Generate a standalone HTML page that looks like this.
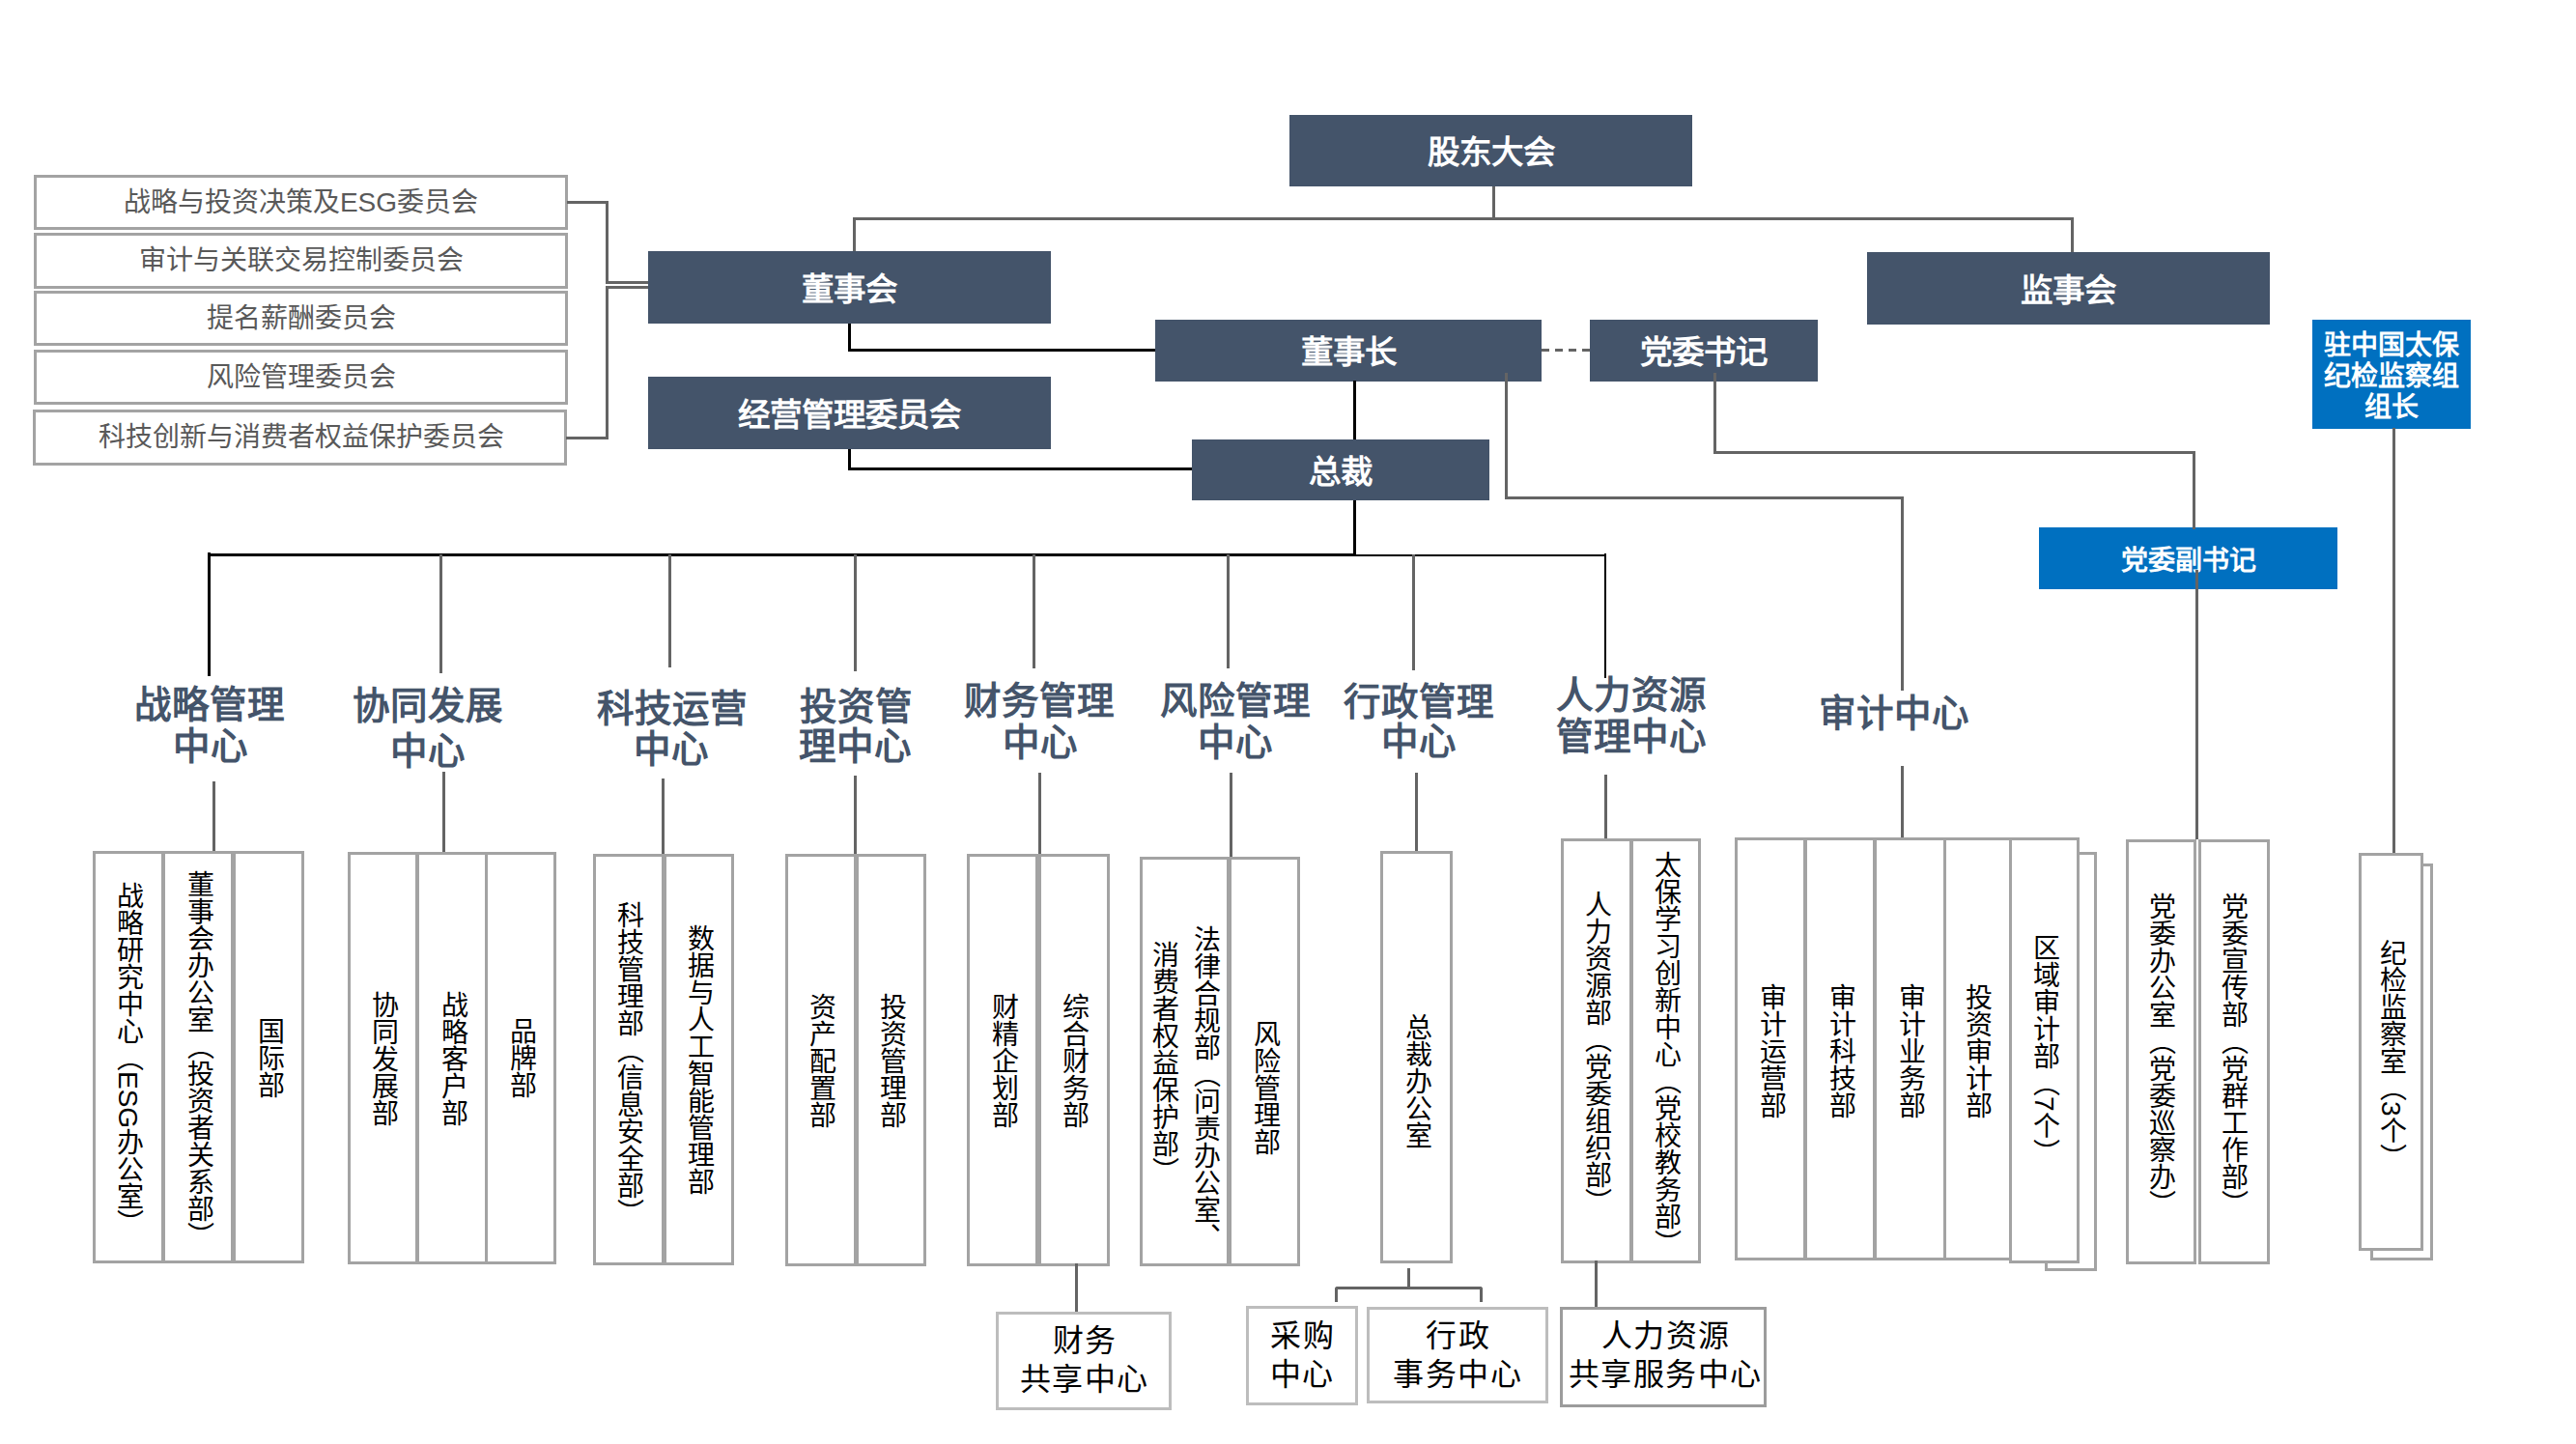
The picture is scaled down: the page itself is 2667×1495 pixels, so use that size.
<!DOCTYPE html>
<html lang="zh-CN"><head><meta charset="utf-8"><title>org</title>
<style>
html,body{margin:0;padding:0;background:#fff;}
body{width:2667px;height:1495px;position:relative;overflow:hidden;font-family:"Liberation Sans",sans-serif;}
.bx{position:absolute;color:#fff;font-weight:bold;display:flex;align-items:center;justify-content:center;text-align:center;box-sizing:border-box;padding-bottom:3px;}
.ln{position:absolute;}
.rc{position:absolute;box-sizing:border-box;}
.vt{position:absolute;writing-mode:vertical-rl;text-orientation:mixed;line-height:1;color:#000;white-space:nowrap;text-align:center;}
.lab{position:absolute;text-align:center;color:#44546A;font-weight:bold;white-space:nowrap;}
.tx{position:absolute;box-sizing:border-box;}
</style></head><body>
<div class="bx" style="left:1335px;top:119px;width:417px;height:74px;background:#44546A;font-size:33.5px;"><span>股东大会</span></div>
<div class="ln" style="left:1545px;top:193px;width:3px;height:34px;background:#646464"></div>
<div class="ln" style="left:883px;top:225px;width:1264px;height:3px;background:#646464"></div>
<div class="ln" style="left:883px;top:225px;width:3px;height:35px;background:#646464"></div>
<div class="ln" style="left:2144px;top:225px;width:3px;height:36px;background:#646464"></div>
<div class="bx" style="left:671px;top:260px;width:417px;height:75px;background:#44546A;font-size:33.5px;"><span>董事会</span></div>
<div class="bx" style="left:1933px;top:261px;width:417px;height:75px;background:#44546A;font-size:33.5px;"><span>监事会</span></div>
<div class="bx" style="left:671px;top:390px;width:417px;height:75px;background:#44546A;font-size:33.5px;"><span>经营管理委员会</span></div>
<div class="bx" style="left:1196px;top:331px;width:400px;height:64px;background:#44546A;font-size:33.5px;"><span>董事长</span></div>
<div class="bx" style="left:1646px;top:331px;width:236px;height:64px;background:#44546A;font-size:33.5px;"><span>党委书记</span></div>
<div class="bx" style="left:1234px;top:455px;width:308px;height:63px;background:#44546A;font-size:33.5px;"><span>总裁</span></div>
<div class="bx" style="left:2394px;top:331px;width:164px;height:113px;background:#0070C0;font-size:28px;line-height:32px;padding-bottom:0;padding-top:4px"><span>驻中国太保<br>纪检监察组<br>组长</span></div>
<div class="bx" style="left:2111px;top:546px;width:309px;height:64px;background:#0070C0;font-size:28px;padding-bottom:0"><span>党委副书记</span></div>
<div class="rc" style="left:35px;top:181px;width:553px;height:57px;border:3px solid #a3a3a3;"></div>
<div class="rc" style="left:35px;top:241px;width:553px;height:58px;border:3px solid #a3a3a3;"></div>
<div class="rc" style="left:35px;top:301px;width:553px;height:57px;border:3px solid #a3a3a3;"></div>
<div class="rc" style="left:35px;top:362px;width:553px;height:57px;border:3px solid #a3a3a3;"></div>
<div class="rc" style="left:34px;top:424px;width:553px;height:58px;border:3px solid #a3a3a3;"></div>
<div class="tx" style="left:35px;top:181px;width:553px;font-size:28px;line-height:57px;color:#595959;font-weight:normal;text-align:center">战略与投资决策及ESG委员会</div>
<div class="tx" style="left:35px;top:241px;width:553px;font-size:28px;line-height:58px;color:#595959;font-weight:normal;text-align:center">审计与关联交易控制委员会</div>
<div class="tx" style="left:35px;top:301px;width:553px;font-size:28px;line-height:57px;color:#595959;font-weight:normal;text-align:center">提名薪酬委员会</div>
<div class="tx" style="left:35px;top:362px;width:553px;font-size:28px;line-height:57px;color:#595959;font-weight:normal;text-align:center">风险管理委员会</div>
<div class="tx" style="left:35px;top:424px;width:553px;font-size:28px;line-height:58px;color:#595959;font-weight:normal;text-align:center">科技创新与消费者权益保护委员会</div>
<div class="ln" style="left:587px;top:208px;width:43px;height:3px;background:#646464"></div>
<div class="ln" style="left:627px;top:208px;width:3px;height:86px;background:#646464"></div>
<div class="ln" style="left:627px;top:291px;width:44px;height:3px;background:#646464"></div>
<div class="ln" style="left:627px;top:296px;width:44px;height:3px;background:#646464"></div>
<div class="ln" style="left:627px;top:296px;width:3px;height:159px;background:#646464"></div>
<div class="ln" style="left:586px;top:452px;width:44px;height:3px;background:#646464"></div>
<div class="ln" style="left:878px;top:335px;width:3px;height:29px;background:#000"></div>
<div class="ln" style="left:878px;top:361px;width:318px;height:3px;background:#000"></div>
<div class="ln" style="left:878px;top:465px;width:3px;height:22px;background:#000"></div>
<div class="ln" style="left:878px;top:484px;width:356px;height:3px;background:#000"></div>
<div class="ln" style="left:1401px;top:394px;width:3px;height:61px;background:#000"></div>
<div class="ln" style="left:1401px;top:518px;width:3px;height:57px;background:#000"></div>
<div class="ln" style="left:215px;top:573px;width:1189px;height:3px;background:#000"></div>
<div class="ln" style="left:1401px;top:574px;width:262px;height:2px;background:#000"></div>
<div class="ln" style="left:215px;top:572px;width:3px;height:128px;background:#000"></div>
<div class="ln" style="left:1661px;top:573px;width:2px;height:129px;background:#000"></div>
<div class="ln" style="left:1596px;top:361px;width:50px;height:3px;background:repeating-linear-gradient(90deg,#646464 0 8px,transparent 8px 14px)"></div>
<div class="ln" style="left:1558px;top:386px;width:3px;height:131px;background:#646464"></div>
<div class="ln" style="left:1558px;top:514px;width:413px;height:3px;background:#646464"></div>
<div class="ln" style="left:1968px;top:514px;width:3px;height:201px;background:#646464"></div>
<div class="ln" style="left:1968px;top:793px;width:3px;height:75px;background:#646464"></div>
<div class="ln" style="left:1774px;top:386px;width:3px;height:84px;background:#646464"></div>
<div class="ln" style="left:1774px;top:467px;width:499px;height:3px;background:#646464"></div>
<div class="ln" style="left:2270px;top:467px;width:3px;height:81px;background:#646464"></div>
<div class="ln" style="left:2273px;top:590px;width:3px;height:279px;background:#646464"></div>
<div class="ln" style="left:2477px;top:443px;width:3px;height:441px;background:#646464"></div>
<div class="ln" style="left:455px;top:574px;width:3px;height:123px;background:#646464"></div>
<div class="ln" style="left:692px;top:574px;width:3px;height:117px;background:#646464"></div>
<div class="ln" style="left:884px;top:574px;width:3px;height:121px;background:#646464"></div>
<div class="ln" style="left:1069px;top:574px;width:3px;height:118px;background:#646464"></div>
<div class="ln" style="left:1270px;top:574px;width:3px;height:118px;background:#646464"></div>
<div class="ln" style="left:1462px;top:574px;width:3px;height:120px;background:#646464"></div>
<div class="ln" style="left:220px;top:809px;width:3px;height:73px;background:#646464"></div>
<div class="ln" style="left:458px;top:799px;width:3px;height:83px;background:#646464"></div>
<div class="ln" style="left:685px;top:806px;width:3px;height:78px;background:#646464"></div>
<div class="ln" style="left:884px;top:803px;width:3px;height:81px;background:#646464"></div>
<div class="ln" style="left:1075px;top:800px;width:3px;height:84px;background:#646464"></div>
<div class="ln" style="left:1273px;top:800px;width:3px;height:87px;background:#646464"></div>
<div class="ln" style="left:1465px;top:800px;width:3px;height:82px;background:#646464"></div>
<div class="ln" style="left:1661px;top:802px;width:3px;height:67px;background:#646464"></div>
<div class="lab" style="left:16.5px;top:711.3px;width:400px;font-size:38.5px;line-height:38.5px">战略管理</div>
<div class="lab" style="left:17.8px;top:754.2px;width:400px;font-size:38.5px;line-height:38.5px">中心</div>
<div class="lab" style="left:242.6px;top:711.7px;width:400px;font-size:38.5px;line-height:38.5px">协同发展</div>
<div class="lab" style="left:243.0px;top:758.6px;width:400px;font-size:38.5px;line-height:38.5px">中心</div>
<div class="lab" style="left:496.0px;top:714.8px;width:400px;font-size:38.5px;line-height:38.5px">科技运营</div>
<div class="lab" style="left:495.2px;top:756.7px;width:400px;font-size:38.5px;line-height:38.5px">中心</div>
<div class="lab" style="left:686.1px;top:712.7px;width:400px;font-size:38.5px;line-height:38.5px">投资管</div>
<div class="lab" style="left:685.9px;top:754.1px;width:400px;font-size:38.5px;line-height:38.5px">理中心</div>
<div class="lab" style="left:876.2px;top:707.2px;width:400px;font-size:38.5px;line-height:38.5px">财务管理</div>
<div class="lab" style="left:876.6px;top:749.6px;width:400px;font-size:38.5px;line-height:38.5px">中心</div>
<div class="lab" style="left:1079.4px;top:706.6px;width:400px;font-size:38.5px;line-height:38.5px">风险管理</div>
<div class="lab" style="left:1079.2px;top:749.6px;width:400px;font-size:38.5px;line-height:38.5px">中心</div>
<div class="lab" style="left:1269.1px;top:707.8px;width:400px;font-size:38.5px;line-height:38.5px">行政管理</div>
<div class="lab" style="left:1269.4px;top:749.1px;width:400px;font-size:38.5px;line-height:38.5px">中心</div>
<div class="lab" style="left:1489.0px;top:701.4px;width:400px;font-size:38.5px;line-height:38.5px">人力资源</div>
<div class="lab" style="left:1488.8px;top:743.9px;width:400px;font-size:38.5px;line-height:38.5px">管理中心</div>
<div class="lab" style="left:1761.1px;top:720.3px;width:400px;font-size:38.5px;line-height:38.5px">审计中心</div>
<div class="rc" style="left:2117px;top:882px;width:54px;height:434px;border:3px solid #a3a3a3;background:#fff"></div>
<div class="rc" style="left:2454px;top:894px;width:65px;height:411px;border:3px solid #a3a3a3;background:#fff"></div>
<div class="rc" style="left:96px;top:881px;width:75px;height:427px;border:3px solid #a3a3a3;"></div>
<div class="rc" style="left:167px;top:881px;width:77px;height:427px;border:3px solid #a3a3a3;"></div>
<div class="rc" style="left:239px;top:881px;width:76px;height:427px;border:3px solid #a3a3a3;"></div>
<div class="rc" style="left:360px;top:882px;width:74px;height:427px;border:3px solid #a3a3a3;"></div>
<div class="rc" style="left:430px;top:882px;width:75px;height:427px;border:3px solid #a3a3a3;"></div>
<div class="rc" style="left:502px;top:882px;width:74px;height:427px;border:3px solid #a3a3a3;"></div>
<div class="rc" style="left:614px;top:884px;width:76px;height:426px;border:3px solid #a3a3a3;"></div>
<div class="rc" style="left:685px;top:884px;width:75px;height:426px;border:3px solid #a3a3a3;"></div>
<div class="rc" style="left:813px;top:884px;width:76px;height:427px;border:3px solid #a3a3a3;"></div>
<div class="rc" style="left:884px;top:884px;width:75px;height:427px;border:3px solid #a3a3a3;"></div>
<div class="rc" style="left:1001px;top:884px;width:77px;height:427px;border:3px solid #a3a3a3;"></div>
<div class="rc" style="left:1072px;top:884px;width:77px;height:427px;border:3px solid #a3a3a3;"></div>
<div class="rc" style="left:1180px;top:887px;width:95px;height:424px;border:3px solid #a3a3a3;"></div>
<div class="rc" style="left:1270px;top:887px;width:76px;height:424px;border:3px solid #a3a3a3;"></div>
<div class="rc" style="left:1429px;top:881px;width:75px;height:427px;border:3px solid #a3a3a3;"></div>
<div class="rc" style="left:1616px;top:868px;width:75px;height:440px;border:3px solid #a3a3a3;"></div>
<div class="rc" style="left:1687px;top:868px;width:74px;height:440px;border:3px solid #a3a3a3;"></div>
<div class="rc" style="left:1796px;top:867px;width:75px;height:438px;border:3px solid #a3a3a3;"></div>
<div class="rc" style="left:1867px;top:867px;width:76px;height:438px;border:3px solid #a3a3a3;"></div>
<div class="rc" style="left:1939px;top:867px;width:76px;height:438px;border:3px solid #a3a3a3;"></div>
<div class="rc" style="left:2012px;top:867px;width:71px;height:438px;border:3px solid #a3a3a3;"></div>
<div class="rc" style="left:2080px;top:867px;width:73px;height:441px;border:3px solid #a3a3a3;background:#fff"></div>
<div class="rc" style="left:2201px;top:869px;width:73px;height:440px;border:3px solid #a3a3a3;"></div>
<div class="rc" style="left:2276px;top:869px;width:74px;height:440px;border:3px solid #a3a3a3;"></div>
<div class="rc" style="left:2442px;top:883px;width:67px;height:412px;border:3px solid #a3a3a3;background:#fff"></div>
<div class="vt" style="left:118.4px;top:847.0px;height:500px;font-size:28px;">战略研究中心（ESG办公室）</div>
<div class="vt" style="left:190.5px;top:847.0px;height:500px;font-size:28px;">董事会办公室（投资者关系部）</div>
<div class="vt" style="left:263.8px;top:845.0px;height:500px;font-size:28px;">国际部</div>
<div class="vt" style="left:382.1px;top:846.4px;height:500px;font-size:28px;">协同发展部</div>
<div class="vt" style="left:454.2px;top:846.4px;height:500px;font-size:28px;">战略客户部</div>
<div class="vt" style="left:525.3px;top:845.4px;height:500px;font-size:28px;">品牌部</div>
<div class="vt" style="left:635.8px;top:850.5px;height:500px;font-size:28px;">科技管理部（信息安全部）</div>
<div class="vt" style="left:708.7px;top:846.5px;height:500px;font-size:28px;">数据与人工智能管理部</div>
<div class="vt" style="left:835.1px;top:847.9px;height:500px;font-size:28px;">资产配置部</div>
<div class="vt" style="left:907.9px;top:847.9px;height:500px;font-size:28px;">投资管理部</div>
<div class="vt" style="left:1023.9px;top:847.9px;height:500px;font-size:28px;">财精企划部</div>
<div class="vt" style="left:1096.5px;top:847.9px;height:500px;font-size:28px;">综合财务部</div>
<div class="vt" style="left:1232.5px;top:876.4px;height:500px;font-size:28px;">法律合规部（问责办公室、</div>
<div class="vt" style="left:1190.0px;top:850.3px;height:500px;font-size:28px;">消费者权益保护部）</div>
<div class="vt" style="left:1295.0px;top:876.1px;height:500px;font-size:28px;">风险管理部</div>
<div class="vt" style="left:1452.0px;top:868.5px;height:500px;font-size:28px;">总裁办公室</div>
<div class="vt" style="left:1638.4px;top:839.5px;height:500px;font-size:28px;">人力资源部（党委组织部）</div>
<div class="vt" style="left:1710.2px;top:841.1px;height:500px;font-size:28px;">太保学习创新中心（党校教务部）</div>
<div class="vt" style="left:1818.7px;top:837.5px;height:500px;font-size:28px;">审计运营部</div>
<div class="vt" style="left:1891.0px;top:837.5px;height:500px;font-size:28px;">审计科技部</div>
<div class="vt" style="left:1962.5px;top:837.5px;height:500px;font-size:28px;">审计业务部</div>
<div class="vt" style="left:2031.8px;top:837.5px;height:500px;font-size:28px;">投资审计部</div>
<div class="vt" style="left:2102.0px;top:837.1px;height:500px;font-size:28px;">区域审计部（7个）</div>
<div class="vt" style="left:2222.4px;top:841.7px;height:500px;font-size:28px;">党委办公室（党委巡察办）</div>
<div class="vt" style="left:2296.8px;top:841.7px;height:500px;font-size:28px;">党委宣传部（党群工作部）</div>
<div class="vt" style="left:2461.0px;top:842.1px;height:500px;font-size:28px;">纪检监察室（3个）</div>
<div class="ln" style="left:1113px;top:1308px;width:3px;height:51px;background:#646464"></div>
<div class="rc" style="left:1031px;top:1358px;width:182px;height:102px;border:3px solid #bdbdbd;"></div>
<div class="tx" style="left:1032px;top:1358px;width:181px;font-size:32px;line-height:40px;color:#000;font-weight:normal;text-align:center;padding-top:10px;letter-spacing:1.5px;text-indent:1.5px">财务<br>共享中心</div>
<div class="rc" style="left:1382px;top:1332px;width:153px;height:16px;border:3px solid #646464;border-bottom:none;border-radius:3px 3px 0 0"></div>
<div class="ln" style="left:1457px;top:1313px;width:3px;height:21px;background:#646464"></div>
<div class="rc" style="left:1290px;top:1352px;width:116px;height:103px;border:3px solid #bdbdbd;"></div>
<div class="tx" style="left:1291px;top:1353px;width:114px;font-size:32px;line-height:40px;color:#000;font-weight:normal;text-align:center;padding-top:10px;letter-spacing:1.5px;text-indent:1.5px">采购<br>中心</div>
<div class="rc" style="left:1415px;top:1353px;width:188px;height:100px;border:3px solid #bdbdbd;"></div>
<div class="tx" style="left:1415px;top:1353px;width:188px;font-size:32px;line-height:40px;color:#000;font-weight:normal;text-align:center;padding-top:10px;letter-spacing:1.5px;text-indent:1.5px">行政<br>事务中心</div>
<div class="ln" style="left:1651px;top:1305px;width:3px;height:48px;background:#646464"></div>
<div class="rc" style="left:1615px;top:1353px;width:214px;height:104px;border:3px solid #9c9c9c;"></div>
<div class="tx" style="left:1615px;top:1353px;width:213px;font-size:32px;line-height:40px;color:#000;font-weight:normal;text-align:center;padding-top:10px;letter-spacing:1.5px;text-indent:1.5px;padding-left:5px">人力资源<br>共享服务中心</div>
</body></html>
